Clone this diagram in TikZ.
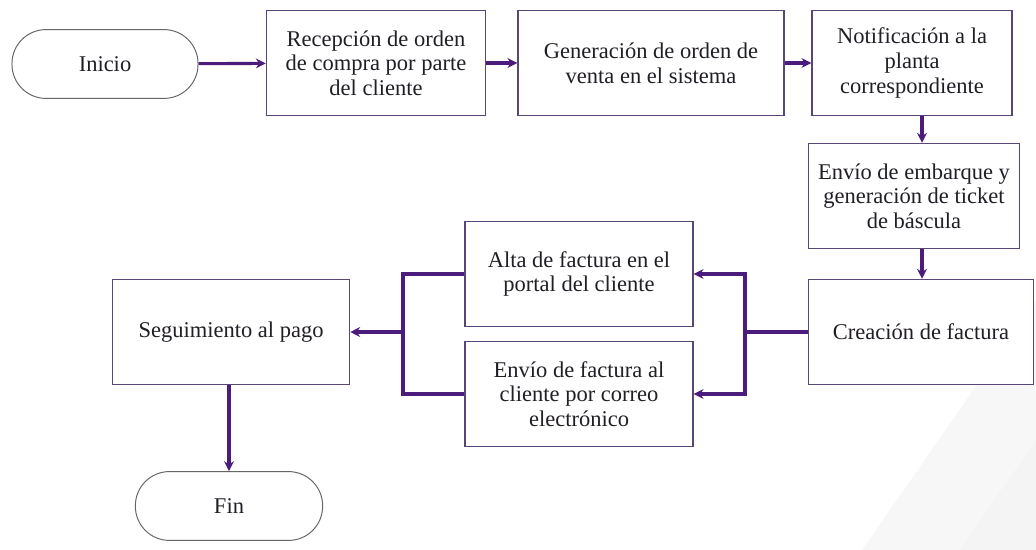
\documentclass[tikz,border=0pt]{standalone}
\usepackage{fontspec}
\setmainfont{Liberation Serif}
\usetikzlibrary{arrows.meta}

\definecolor{flowpurple}{RGB}{76,28,124}
\definecolor{boxline}{RGB}{88,70,118}
\definecolor{inktext}{RGB}{34,30,38}

\tikzset{
  flow/.style={draw=flowpurple,line width=2.2pt,-{Stealth[length=7pt,width=7pt]}},
  link/.style={draw=flowpurple,line width=2.2pt},
  stepbox/.style={rectangle,draw=boxline,line width=0.9pt,fill=white,align=center,
    text=inktext,font=\fontsize{16}{17.5}\selectfont,minimum height=2.63cm},
  endbox/.style={rectangle,rounded corners=0.85cm,draw=gray!80!black,line width=0.7pt,
    fill=white,text=inktext,font=\fontsize{16}{17.5}\selectfont,minimum height=1.72cm}
}

\begin{document}
\begin{tikzpicture}[x=0.025cm,y=-0.025cm]

      \useasboundingbox (0,0) rectangle (1036,550);
      \fill[white] (0,0) rectangle (1036,550);
      \fill[gray!6] (862,550) -- (1036,300) -- (1036,550) -- cycle;
      \fill[gray!9] (960,550) -- (1036,440) -- (1036,550) -- cycle;

      \begin{scope}[every node/.style={endbox}]
        \node[minimum width=4.65cm] (inicio) at (105,64)  {Inicio};
        \node[minimum width=4.68cm] (fin)    at (229,506) {Fin};
      \end{scope}

      \begin{scope}[every node/.style={stepbox}]
        \node[minimum width=5.48cm] (recep)  at (376,63)  {Recepción de orden\\de compra por parte\\del cliente};
        \node[minimum width=6.65cm] (gener)  at (651,63)  {Generación de orden de\\venta en el sistema};
        \node[minimum width=5.0cm]  (notif)  at (912,63)  {Notificación a la\\planta\\correspondiente};
        \node[minimum width=5.28cm] (embarq) at (914,196) {Envío de embarque y\\generación de ticket\\de báscula};
        \node[minimum width=5.63cm] (creac)  at (921,332) {Creación de factura};
        \node[minimum width=5.7cm]  (alta)   at (579,274) {Alta de factura en el\\portal del cliente};
        \node[minimum width=5.7cm]  (envfac) at (579,394) {Envío de factura al\\cliente por correo\\electrónico};
        \node[minimum width=5.93cm] (segui)  at (231,332) {Seguimiento al pago};
      \end{scope}

      \coordinate (jr) at (745,332);
      \coordinate (jl) at (403,332);

      \path[flow] (inicio) -- (recep);
      \path[flow] (recep)  -- (gener);
      \path[flow] (gener)  -- (notif);
      \path[flow] ([xshift=10*0.025cm]notif.south) -- ([xshift=10*0.025cm]notif.south |- embarq.north);
      \path[flow] ([xshift=8*0.025cm]embarq.south) -- ([xshift=8*0.025cm]embarq.south |- creac.north);
      \path[link] (creac.west) -- (jr);
      \path[flow] (jr) |- (alta.east);
      \path[flow] (jr) |- (envfac.east);
      \path[link] (alta.west) -| (jl) |- (envfac.west);
      \path[flow] (jl) -- (segui.east);
      \path[flow] (fin.north |- segui.south) -- (fin.north);

    \end{tikzpicture}
\end{document}
